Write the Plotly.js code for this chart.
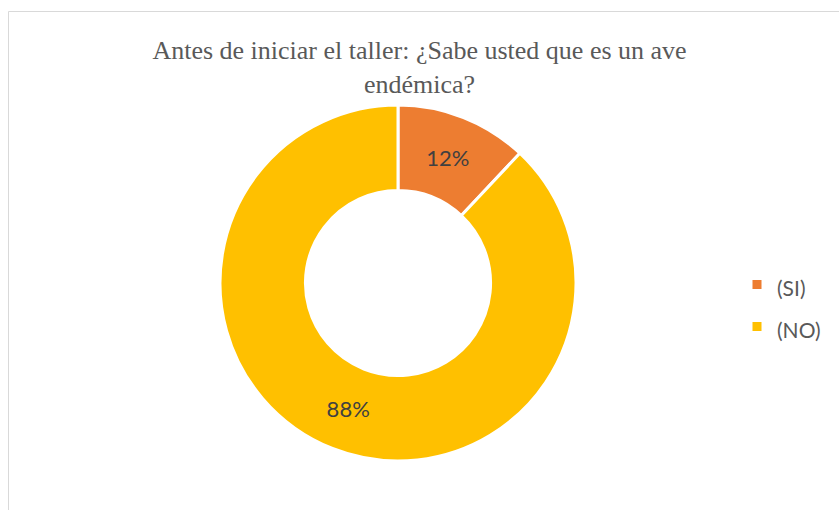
<!DOCTYPE html>
<html>
<head>
<meta charset="utf-8">
<script src="https://cdn.plot.ly/plotly-3.0.1.min.js"></script>
<style>html,body{margin:0;padding:0;background:#fff;}#chart{width:839px;height:510px;}</style>
</head>
<body>
<div id="chart"></div>
<script>
const categories = ["(SI)", "(NO)"];
const values = [12, 88];
const colors = ["#ED7D31", "#FFC000"];
const titleText = "Antes de iniciar el taller: ¿Sabe usted que es un ave<br>endémica?";

const W = 839, H = 510;
const cx = 398, cy = 283, R = 178;

const trace = {
  type: "pie",
  labels: categories.map(c => '<span style="font-size:21px">' + c + '</span>'),
  values: values,
  sort: false,
  direction: "clockwise",
  rotation: 0,
  hole: 0.52,
  marker: { colors: colors, line: { color: "#ffffff", width: 3 } },
  textinfo: "percent",
  texttemplate: "%{percent:.0%}",
  textposition: "inside",
  insidetextorientation: "horizontal",
  textfont: { family: "Lato, sans-serif", size: 22, color: "#404040" },
  hoverinfo: "label+percent",
  domain: { x: [(cx - R) / W, (cx + R) / W], y: [(H - cy - R) / H, (H - cy + R) / H] }
};

const layout = {
  width: W, height: H,
  margin: { l: 0, r: 0, t: 0, b: 0 },
  paper_bgcolor: "#ffffff",
  title: {
    text: titleText,
    font: { family: "'Liberation Serif', 'Times New Roman', serif", size: 26, color: "#595959" },
    x: 0.5, xanchor: "center", xref: "paper",
    y: 1 - 59 / H, yanchor: "top", yref: "container"
  },
  showlegend: true,
  legend: {
    x: 737 / W, xanchor: "left",
    y: 0.401, yanchor: "middle",
    font: { family: "Lato, sans-serif", size: 30, color: "#595959" },
    bgcolor: "rgba(0,0,0,0)"
  },
  shapes: [{
    type: "rect", xref: "paper", yref: "paper",
    x0: 8.5 / W, x1: 1.2, y0: -0.2, y1: 1 - 11.5 / H,
    line: { color: "#d9d9d9", width: 1 }, fillcolor: "rgba(0,0,0,0)", layer: "below"
  }]
};

Plotly.newPlot("chart", [trace], layout, { displayModeBar: false, staticPlot: true });
</script>
</body>
</html>
